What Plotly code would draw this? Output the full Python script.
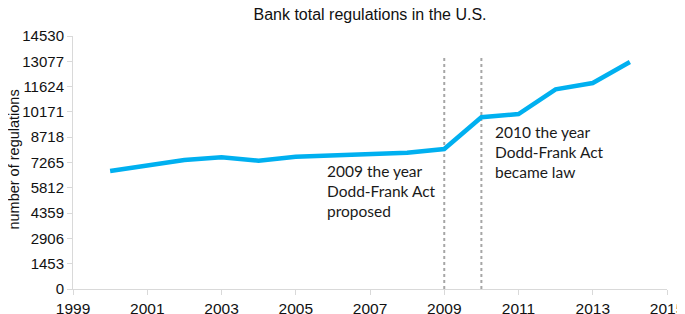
import plotly.graph_objects as go

years = list(range(2000, 2015))
regulations = [6777, 7121, 7409, 7564, 7368, 7598, 7655, 7713, 7828, 8040,
               9861, 10050, 11469, 11831, 13037]
y_ticks = [0, 1453, 2906, 4359, 5812, 7265, 8718, 10171, 11624, 13077, 14530]
y_tick_labels = [str(v) for v in y_ticks]
x_ticks = [1999, 2001, 2003, 2005, 2007, 2009, 2011, 2013, 2015]
x_tick_labels = [str(v) for v in x_ticks]
event_years = [2009, 2010]
event_line_top = 13330
notes = ["2009 the year<br>Dodd-Frank Act<br>proposed",
         "2010 the year<br>Dodd-Frank Act<br>became law"]
note_x = [2005.8, 2010.3]
note_y = [7400, 9630]

fig = go.Figure()
for ey in event_years:
    fig.add_trace(go.Scatter(x=[ey, ey], y=[0, event_line_top], mode="lines",
                             line=dict(color="#a6a6a6", width=2, dash="dot"),
                             showlegend=False, hoverinfo="skip"))
fig.add_trace(go.Scatter(x=years, y=regulations, mode="lines",
                         line=dict(color="#00B0F0", width=4.5),
                         showlegend=False))

for t, xx, yy in zip(notes, note_x, note_y):
    fig.add_annotation(x=xx, y=yy, xref="x", yref="y", text=t, showarrow=False,
                       xanchor="left", yanchor="top", align="left",
                       font=dict(family="Lato", size=15.5, color="#1a1a1a"))

fig.add_annotation(x=-0.1, y=0.51, xref="paper", yref="paper",
                   text="number of regulations", textangle=-90, showarrow=False,
                   xanchor="center", yanchor="middle",
                   font=dict(family="Liberation Sans", size=14.5, color="#111"))

fig.update_layout(
    width=677, height=306,
    margin=dict(l=65, r=18, t=28, b=25),
    paper_bgcolor="white", plot_bgcolor="white",
    title=dict(text="Bank total regulations in the U.S.", x=0.5, xanchor="center",
               xref="paper", y=0.98, yanchor="middle",
               font=dict(family="Liberation Sans", size=16, color="#111")),
    font=dict(family="Liberation Sans", size=15, color="#111"),
    xaxis=dict(range=[1999, 2015], tickvals=x_ticks, ticktext=x_tick_labels,
               showgrid=False, zeroline=False, automargin=False,
               showline=True, linecolor="#d9d9d9", linewidth=1,
               ticks="outside", ticklen=5, tickcolor="#d9d9d9",
               tickfont=dict(size=15.5)),
    yaxis=dict(range=[0, 14530], tickvals=y_ticks, ticktext=y_tick_labels,
               showgrid=False, zeroline=False, automargin=False,
               showline=True, linecolor="#d9d9d9", linewidth=1,
               ticks="outside", ticklen=5, tickcolor="#d9d9d9",
               tickfont=dict(size=15)),
)

fig.write_html("out.html")
